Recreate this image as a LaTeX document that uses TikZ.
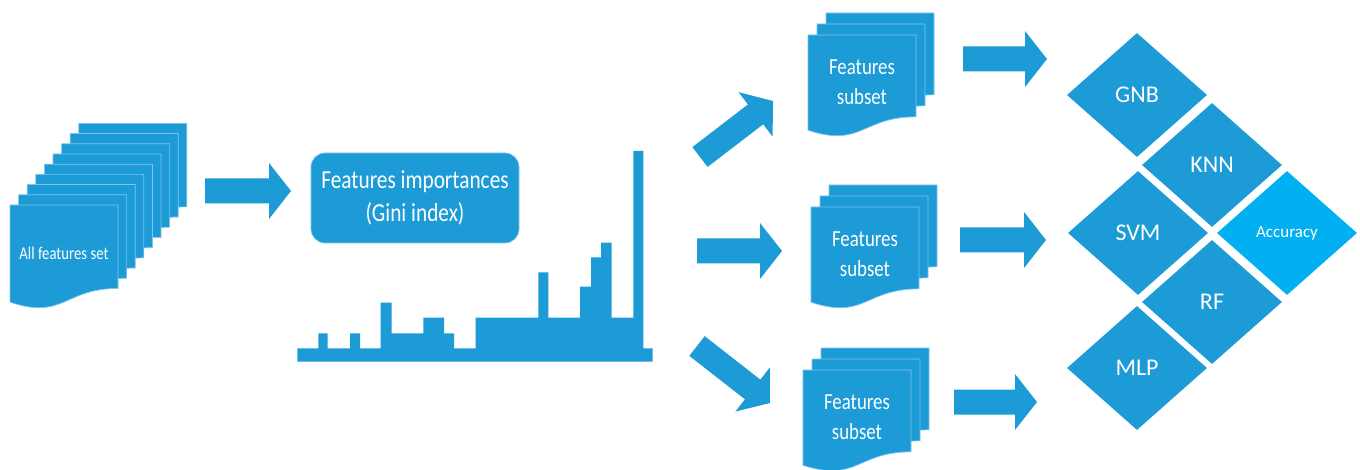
\documentclass[tikz,border=0pt]{standalone}
\usepackage{fontspec}
\setmainfont{Carlito}
\newfontfamily\narrowfont[FakeStretch=0.82]{Carlito}
\usetikzlibrary{shapes.geometric,calc}

\definecolor{flowblue}{RGB}{29,155,215}
\definecolor{accblue}{RGB}{0,176,240}
\definecolor{edgeblue}{RGB}{125,198,236}

\tikzset{
  page/.style={fill=flowblue, draw=edgeblue, line width=0.7pt, line join=miter},
  flow/.style={fill=flowblue},
  lbl/.style={text=white, align=center, inner sep=0pt},
  settext/.style={lbl, font=\narrowfont\fontsize{18}{21}\selectfont},
  subsettext/.style={lbl, font=\narrowfont\fontsize{23}{30}\selectfont},
  importbox/.style={lbl, fill=flowblue, draw=edgeblue, line width=0.7pt,
    rounded corners=14pt, minimum width=208pt, minimum height=90pt,
    font=\narrowfont\fontsize{26}{33}\selectfont},
  model/.style={diamond, fill=flowblue, text=white, minimum width=140pt,
    minimum height=124pt, inner sep=0pt, font=\fontsize{24}{28}\selectfont},
  score/.style={model, fill=accblue, font=\fontsize{17}{20}\selectfont},
}

% one sheet of a document: top-left corner, width, height; wavy lower edge
\newcommand\docpage[4]{%
  \filldraw[page] ({#1},{#2}) -- ({#1+#3},{#2}) -- ({#1+#3},{#2-0.802*#4})
    .. controls ({#1+0.5*#3},{#2-0.802*#4}) and ({#1+0.5*#3},{#2-1.107*#4})
    .. ({#1},{#2-0.934*#4}) -- cycle;}

% a pile of sheets, drawn from the back one to the front one
% args: x, y of front sheet, width, height, step x, step y, number of back sheets
\newcommand\docstack[7]{%
  \foreach \k in {#7,...,0} {\docpage{#1+\k*#5}{#2+\k*#6}{#3}{#4}}}

% wide block arrow between two points
\newcommand\blockarrow[2]{%
  \coordinate (ahead) at ($(#2)!22pt!(#1)$);
  \fill[flow] ($(#1)!12.5pt!90:(#2)$) -- ($(ahead)!12.5pt!90:(#2)$)
    -- ($(ahead)!28pt!90:(#2)$) -- (#2) -- ($(ahead)!28pt!-90:(#2)$)
    -- ($(ahead)!12.5pt!-90:(#2)$) -- ($(#1)!12.5pt!-90:(#2)$) -- cycle;}

\begin{document}
\begin{tikzpicture}[x=1pt, y=1pt]
\useasboundingbox (0,0) rectangle (1360,469);
\fill[white] (0,0) rectangle (1360,469);

% full feature set
\docstack{10}{264}{108}{104}{8.6}{10.2}{8}
\node[settext] (allset) at (64,216) {All features set};

% ranking box and importance profile
\node[importbox] (imp) at (415,271) {Features importances\\(Gini index)};
\fill[flow] (297.3,107.3) -- (297.3,120.7) -- (318.3,120.7) -- (318.3,135.7)
  -- (327.7,135.7) -- (327.7,120.7) -- (350,120.7) -- (350,135.7)
  -- (360,135.7) -- (360,120.7) -- (380.7,120.7) -- (380.7,166.3)
  -- (391.7,166.3) -- (391.7,135.7) -- (423.3,135.7) -- (423.3,151.3)
  -- (444,151.3) -- (444,135.7) -- (454,135.7) -- (454,120.7)
  -- (475.7,120.7) -- (475.7,151.3) -- (538.3,151.3) -- (538.3,196.7)
  -- (548.3,196.7) -- (548.3,151.3) -- (580,151.3) -- (580,182.3)
  -- (591,182.3) -- (591,211.7) -- (601,211.7) -- (601,226.3)
  -- (611.7,226.3) -- (611.7,151.3) -- (633.3,151.3) -- (633.3,318)
  -- (643.3,318) -- (643.3,120.7) -- (652.7,120.7) -- (652.7,107.3) -- cycle;

% selected subsets
\docstack{808}{434}{108}{102}{9}{11}{2}
\node[subsettext] (sub1) at (862,387) {Features\\subset};
\docstack{811}{262}{108}{102}{9}{11}{2}
\node[subsettext] (sub2) at (865,215) {Features\\subset};
\docstack{803}{99}{108}{102}{9}{11}{2}
\node[subsettext] (sub3) at (857,52) {Features\\subset};

% classifiers and the resulting score
\node[model] (gnb) at (1137,374) {GNB};
\node[model] (knn) at (1212,304) {KNN};
\node[model] (svm) at (1138,236) {SVM};
\node[score] (acc) at (1287,236) {Accuracy};
\node[model] (rf)  at (1212,167) {RF};
\node[model] (mlp) at (1137,101) {MLP};

% arrow ends
\coordinate (a1s) at (205,278);  \coordinate (a1e) at (291,278);
\coordinate (a2s) at (700,312);  \coordinate (a2e) at (773,368);
\coordinate (a3s) at (697,218);  \coordinate (a3e) at (782,218);
\coordinate (a4s) at (697,123);  \coordinate (a4e) at (770,66);
\coordinate (a5s) at (963,410);  \coordinate (a5e) at (1047,410);
\coordinate (a6s) at (960,229);  \coordinate (a6e) at (1046,229);
\coordinate (a7s) at (954,67);   \coordinate (a7e) at (1037,67);

\blockarrow{a1s}{a1e}
\blockarrow{a2s}{a2e}
\blockarrow{a3s}{a3e}
\blockarrow{a4s}{a4e}
\blockarrow{a5s}{a5e}
\blockarrow{a6s}{a6e}
\blockarrow{a7s}{a7e}
\end{tikzpicture}
\end{document}
